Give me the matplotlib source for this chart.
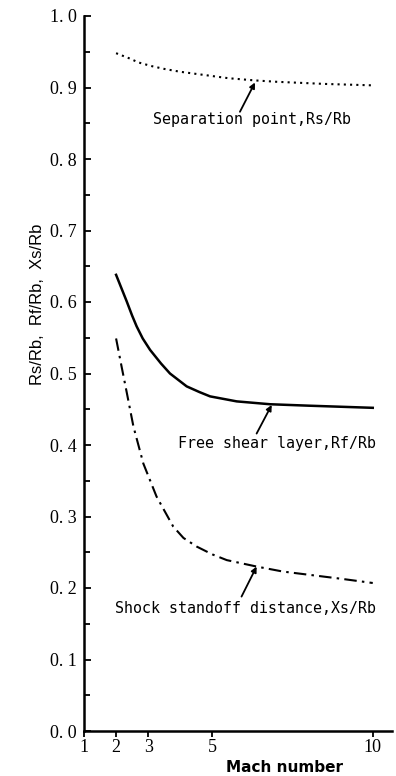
import matplotlib
matplotlib.use("Agg")
import matplotlib.pyplot as plt
import numpy as np

# ---- data ----
sep_mach = [2.0, 2.4, 2.7, 3.1, 3.5, 4.0, 4.5, 5.0, 5.5, 6.3, 7.0, 7.5, 8.5, 10.0]
sep_val = [0.948, 0.941, 0.935, 0.930, 0.926, 0.922, 0.919, 0.916, 0.913, 0.910, 0.908, 0.907, 0.905, 0.903]

shear_mach = [2.0, 2.33, 2.5, 2.64, 2.83, 3.06, 3.4, 3.68, 4.2, 4.6, 4.93, 5.76, 6.8, 8.0, 10.0]
shear_val = [0.638, 0.601, 0.581, 0.566, 0.549, 0.533, 0.514, 0.500, 0.482, 0.474, 0.468, 0.461, 0.457, 0.455, 0.452]

shock_mach = [2.0, 2.17, 2.33, 2.54, 2.85, 3.26, 3.78, 4.1, 4.51, 5.0, 5.45, 6.38, 7.2, 8.1, 9.0, 10.0]
shock_val = [0.549, 0.510, 0.474, 0.426, 0.374, 0.328, 0.286, 0.270, 0.258, 0.247, 0.239, 0.230, 0.223, 0.218, 0.213, 0.207]

x_ticks = [1, 2, 3, 5, 10]
x_labels = ["1", "2", "3", "5", "10"]
y_ticks = [0.0, 0.1, 0.2, 0.3, 0.4, 0.5, 0.6, 0.7, 0.8, 0.9, 1.0]
y_labels = ["0. 0", "0. 1", "0. 2", "0. 3", "0. 4", "0. 5", "0. 6", "0. 7", "0. 8", "0. 9", "1. 0"]

labels = ["Separation point,Rs/Rb", "Free shear layer,Rf/Rb", "Shock standoff distance,Xs/Rb"]

fig = plt.figure(figsize=(3.96, 7.76), dpi=100)
ax = fig.add_axes([84/396, 45/776, (392-84)/396, 715/776])

ax.plot(sep_mach, sep_val, color="black", lw=1.5, linestyle=(0, (1, 2)))
ax.plot(shear_mach, shear_val, color="black", lw=1.8, linestyle="-", solid_joinstyle="round")
ax.plot(shock_mach, shock_val, color="black", lw=1.5, linestyle=(0, (6, 2.5, 1.2, 2.5)))

ax.set_xlim(1, 10.6)
ax.set_ylim(0, 1.0)

for s in ["top", "right"]:
    ax.spines[s].set_visible(False)
for s in ["left", "bottom"]:
    ax.spines[s].set_linewidth(1.8)

serif = ["Liberation Serif", "DejaVu Serif"]
ax.set_xticks(x_ticks, x_labels, fontfamily=serif, fontsize=13)
ax.set_yticks(y_ticks, y_labels, fontfamily=serif, fontsize=13)
ax.set_yticks(np.arange(0.05, 1.0, 0.1), minor=True)
ax.tick_params(axis="x", direction="out", length=4, width=1.3, pad=2)
ax.tick_params(axis="y", which="major", direction="in", length=5, width=1.3, pad=5)
ax.tick_params(axis="y", which="minor", direction="in", length=4, width=1.3)

ax.set_xlabel("Mach number", fontfamily=["DejaVu Sans"], fontweight="bold", fontsize=11)
ax.xaxis.set_label_coords((284-84)/308, -(768-731)/715)
ax.xaxis.label.set_va("center")

ax.set_ylabel("Rs/Rb,  Rf/Rb,  Xs/Rb", fontfamily=["Liberation Sans", "DejaVu Sans"], fontsize=12)
ax.yaxis.set_label_coords((38-84)/308, (731-304)/715)
ax.yaxis.label.set_va("center")

mono = ["DejaVu Sans Mono"]
arrow = dict(arrowstyle="-|>", color="black", lw=1.3, mutation_scale=8, shrinkA=0, shrinkB=0)
ax.annotate("", xy=(6.33, 0.907), xytext=(5.86, 0.866), arrowprops=arrow)
ax.text(3.15, 0.855, labels[0], fontfamily=mono, fontsize=10.8, va="center", ha="left")

ax.annotate("", xy=(6.85, 0.456), xytext=(6.38, 0.416), arrowprops=arrow)
ax.text(3.93, 0.402, labels[1], fontfamily=mono, fontsize=10.8, va="center", ha="left")

ax.annotate("", xy=(6.38, 0.230), xytext=(5.91, 0.188), arrowprops=arrow)
ax.text(1.97, 0.171, labels[2], fontfamily=mono, fontsize=10.8, va="center", ha="left")

fig.savefig("out.png", dpi=100)
